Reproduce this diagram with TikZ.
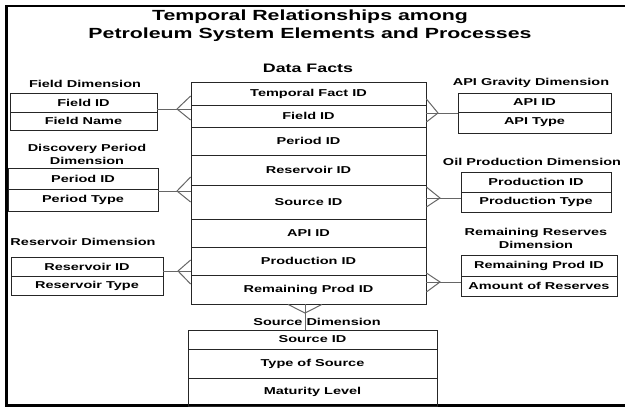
\documentclass[tikz,border=0pt]{standalone}
\usepackage{fontspec}
\setmainfont{Liberation Sans}[FakeStretch=1.45]
\newcommand{\cellfont}{\bfseries\fontsize{10}{13}\selectfont}

\begin{document}
\begin{tikzpicture}[x=1pt,y=-1pt,
  cell/.style={draw=black!85, line width=0.8pt, inner sep=0pt, font=\cellfont},
  facts/.style={cell, minimum width=235},
  dimtitle/.style={inner sep=0pt, font=\cellfont, align=center},
  link/.style={draw=black!60, line width=1pt}]
\useasboundingbox (0,0) rectangle (625,407);

% frame
\draw[line width=2.3pt] (625,6) -- (6.5,6) -- (6.5,405.5) -- (625,405.5);

% title
\node[font=\bfseries\fontsize{14.7}{18}\selectfont, align=center] (title) at (310,26)
  {Temporal Relationships among\\Petroleum System Elements and Processes};

% Data Facts (fact table)
\node[font=\bfseries\fontsize{12.3}{14}\selectfont] (facttitle) at (308,68) {Data Facts};
\node[facts, minimum height=23] (tfid) at (308.5,93.5) {Temporal Fact ID};
\node[facts, minimum height=22] (dfld) at (308.5,116) {Field ID};
\node[facts, minimum height=28] (dper) at (308.5,141) {Period ID};
\node[facts, minimum height=30] (dres) at (308.5,170) {Reservoir ID};
\node[facts, minimum height=34] (dsrc) at (308.5,202) {Source ID};
\node[facts, minimum height=28] (dapi) at (308.5,233) {API ID};
\node[facts, minimum height=28] (dprod) at (308.5,261) {Production ID};
\node[facts, minimum height=29] (drem) at (308.5,289.5) {Remaining Prod ID};

% Field Dimension
\node[dimtitle] (fldtitle) at (85,84) {Field Dimension};
\node[cell, minimum width=147, minimum height=19] (fldid) at (83.5,102.5) {Field ID};
\node[cell, minimum width=147, minimum height=18] (fldname) at (83.5,121) {Field Name};

% Discovery Period Dimension
\node[dimtitle] (pertitle) at (87,154.5) {Discovery Period\\Dimension};
\node[cell, minimum width=150, minimum height=21] (perid) at (83,178.5) {Period ID};
\node[cell, minimum width=150, minimum height=22] (pertype) at (83,200) {Period Type};

% Reservoir Dimension
\node[dimtitle] (restitle) at (83,242) {Reservoir Dimension};
\node[cell, minimum width=152, minimum height=19] (resid) at (87,266.5) {Reservoir ID};
\node[cell, minimum width=152, minimum height=19] (restype) at (87,285.5) {Reservoir Type};

% API Gravity Dimension
\node[dimtitle] (apititle) at (531,83) {API Gravity Dimension};
\node[cell, minimum width=153, minimum height=19] (apiid) at (534.5,102.5) {API ID};
\node[cell, minimum width=153, minimum height=21] (apitype) at (534.5,122.5) {API Type};

% Oil Production Dimension
\node[dimtitle] (prodtitle) at (532,162) {Oil Production Dimension};
\node[cell, minimum width=150, minimum height=20] (prodid) at (536,182) {Production ID};
\node[cell, minimum width=150, minimum height=20] (prodtype) at (536,202) {Production Type};

% Remaining Reserves Dimension
\node[dimtitle] (remtitle) at (536,238) {Remaining Reserves\\Dimension};
\node[cell, minimum width=156, minimum height=21] (remid) at (539,265.5) {Remaining Prod ID};
\node[cell, minimum width=156, minimum height=20] (remamt) at (539,286) {Amount of Reserves};

% Source Dimension
\node[dimtitle] (srctitle) at (317,322) {Source Dimension};
\node[cell, minimum width=249, minimum height=19] (srcid) at (312.5,339.5) {Source ID};
\node[cell, minimum width=249, minimum height=29] (srctype) at (312.5,363.5) {Type of Source};
\node[cell, minimum width=249, minimum height=28] (srcmat) at (312.5,392) {Maturity Level};

% crow's feet (many side at the fact table)
\coordinate (apfld) at (177,109);
\draw[link] (fldid.east |- apfld) -- (tfid.west |- apfld);
\draw[link] (tfid.west |- 0,96) -- (apfld) -- (tfid.west |- 0,120);

\coordinate (apper) at (177,191);
\draw[link] (perid.east |- apper) -- (dres.west |- apper);
\draw[link] (dres.west |- 0,177) -- (apper) -- (dres.west |- 0,202);

\coordinate (apres) at (178,271);
\draw[link] (resid.east |- apres) -- (dprod.west |- apres);
\draw[link] (dprod.west |- 0,260) -- (apres) -- (dprod.west |- 0,284);

\coordinate (apapi) at (438,113);
\draw[link] (tfid.east |- apapi) -- (apiid.west |- apapi);
\draw[link] (tfid.east |- 0,99) -- (apapi) -- (tfid.east |- 0,122);

\coordinate (approd) at (440,198);
\draw[link] (dsrc.east |- approd) -- (prodid.west |- approd);
\draw[link] (dsrc.east |- 0,187) -- (approd) -- (dsrc.east |- 0,207);

\coordinate (aprem) at (440,282);
\draw[link] (drem.east |- aprem) -- (remid.west |- aprem);
\draw[link] (drem.east |- 0,273) -- (aprem) -- (drem.east |- 0,292);

\coordinate (apsrc) at (305,313);
\draw[link] (drem.south -| apsrc) -- (srcid.north -| apsrc);
\draw[link] (288,0 |- drem.south) -- (apsrc) -- (322,0 |- drem.south);

\end{tikzpicture}
\end{document}
